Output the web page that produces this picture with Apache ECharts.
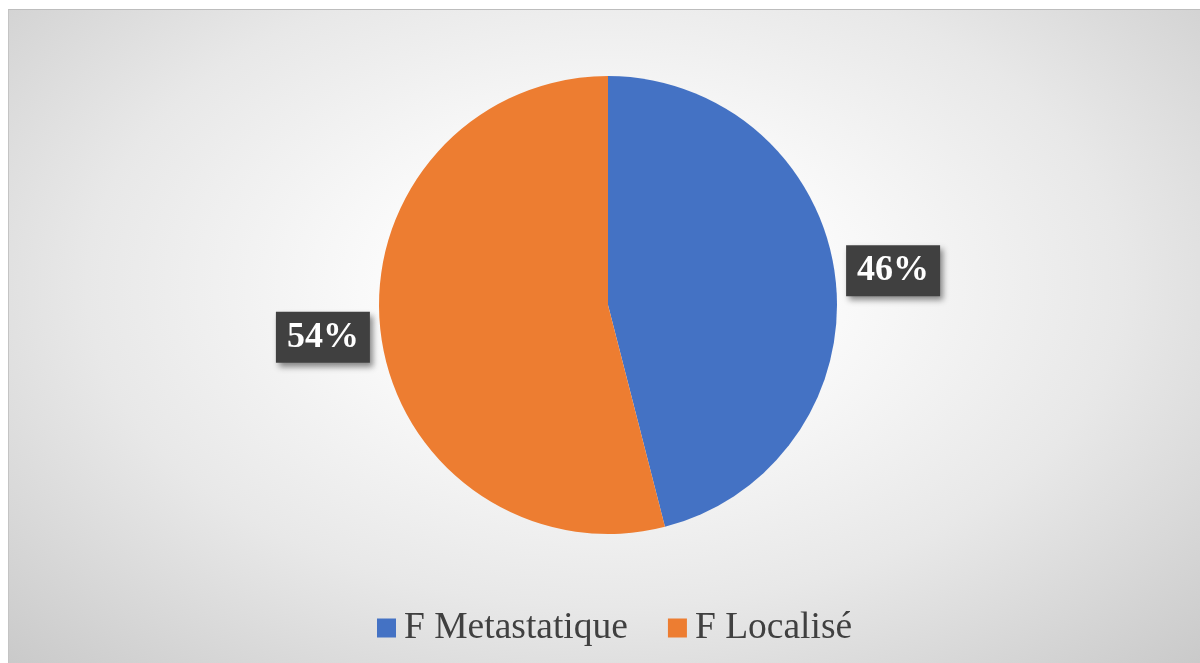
<!DOCTYPE html>
<html><head><meta charset="utf-8">
<script src="https://cdn.jsdelivr.net/npm/echarts@6/dist/echarts.min.js"></script>
<style>
html,body{margin:0;padding:0;background:#fff;}
#wrap{position:absolute;left:8px;top:9px;width:1192px;height:654px;border-top:1px solid #bdbdbd;border-left:1px solid #c4c4c4;box-sizing:border-box;
background:radial-gradient(ellipse 75% 85% at 50% 42%, #ffffff 0%, #fcfcfc 22%, #e8e8e8 58%, #c6c6c6 100%);}
#main{width:100%;height:100%;}
</style></head>
<body><div id="wrap"><div id="main"></div></div>
<script>
const categories = ['F Metastatique', 'F Localisé'];
const values = [46, 54];
const colors = ['#4472C4', '#ED7D31'];

const chart = echarts.init(document.getElementById('main'));
chart.setOption({
  animation: false,
  legend: {
    bottom: 11,
    left: 363,
    itemWidth: 19,
    itemHeight: 19,
    itemGap: 40,
    icon: 'rect',
    textStyle: {fontFamily: 'Liberation Serif', fontSize: 37.5, color: '#404040', padding: [0, 0, 0, 3]},
    data: categories
  },
  series: [{
    type: 'pie',
    center: [599, 295],
    radius: 229,
    startAngle: 90,
    clockwise: true,
    data: categories.map((c, i) => ({name: c, value: values[i], itemStyle: {color: colors[i]}})),
    label: {
      show: true,
      position: 'outside',
      formatter: p => p.value + '%',
      fontFamily: 'Liberation Serif',
      fontWeight: 'bold',
      fontSize: 36,
      color: '#ffffff',
      backgroundColor: '#404040',
      padding: [8, 11, 7, 11],
      shadowColor: 'rgba(0,0,0,0.45)',
      shadowBlur: 6,
      shadowOffsetX: 3,
      shadowOffsetY: 4
    },
    labelLine: {show: false, length: 12, length2: 0},
    labelLayout: p => (p.dataIndex === 0 ? {dx: -6, dy: -4} : {dx: 6, dy: 2})
  }]
});
</script></body></html>
